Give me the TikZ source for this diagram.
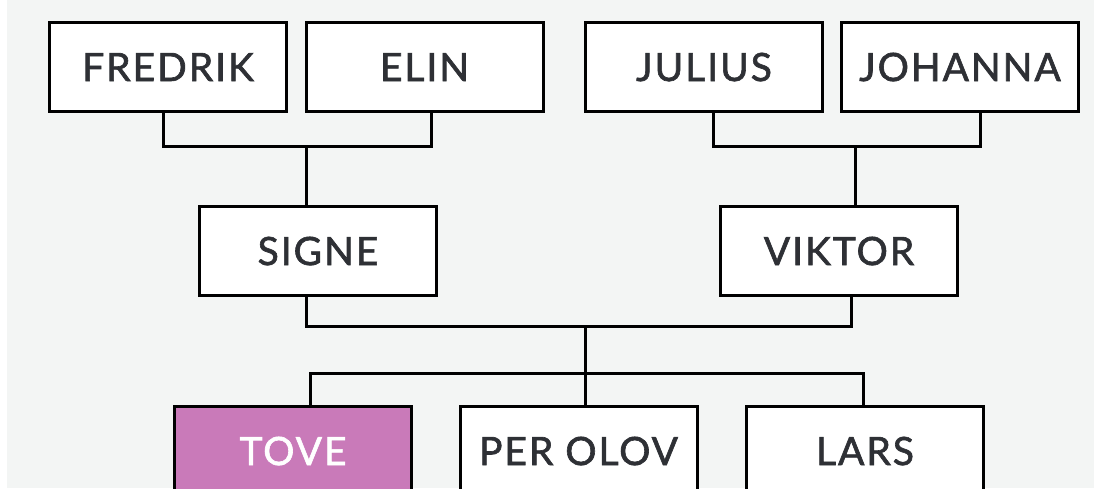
\documentclass[tikz,border=0pt]{standalone}
\usepackage{fontspec}
\newfontfamily\labfont[LetterSpace=5,FakeBold=1.6]{Lato}
\usetikzlibrary{calc}
\definecolor{bggray}{HTML}{F3F5F4}
\definecolor{txtgray}{HTML}{2E3035}
\definecolor{tovefill}{HTML}{C97AB9}
\tikzset{
  person/.style={draw=black, line width=3pt, fill=white, minimum width=237pt, minimum height=89pt,
    inner sep=0pt, text height=28pt, text depth=0pt, font=\labfont\fontsize{39}{39}\selectfont, text=txtgray},
  hilite/.style={person, fill=tovefill, text=white},
  link/.style={line width=3pt, draw=black, line cap=rect}
}
\begin{document}
\begin{tikzpicture}[x=1pt,y=-1pt]
\useasboundingbox (0,0) rectangle (1094,488);
\clip (0,0) rectangle (1094,488);
\fill[white] (0,0) rectangle (1094,488);
\fill[bggray] (7,0) rectangle (1094,488);
% nodes
\node[person] (fredrik) at (168,67) {FREDRIK};
\node[person] (elin) at (424.5,67) {ELIN};
\node[person] (julius) at (704,67) {JULIUS};
\node[person] (johanna) at (960,67) {JOHANNA};
\node[person] (signe) at (318,251) {SIGNE};
\node[person] (viktor) at (839,251) {VIKTOR};
\node[hilite] (tove) at (293,451) {TOVE};
\node[person] (perolov) at (578.5,451) {PER OLOV};
\node[person] (lars) at (865,451) {LARS};
% junction coordinates
\coordinate (j1) at (306,146);
\coordinate (j2) at (855,146);
\coordinate (j3) at (585,326);
\coordinate (j4) at (585,373);
% connectors
\draw[link] ([xshift=-5pt]fredrik.south) |- (j1) -| ([xshift=6.5pt]elin.south);
\draw[link] (j1) -- (signe.north -| j1);
\draw[link] ([xshift=9pt]julius.south) |- (j2) -| ([xshift=20pt]johanna.south);
\draw[link] (j2) -- (viktor.north -| j2);
\draw[link] (signe.south -| j1) |- (j3) -| ([xshift=12pt]viktor.south);
\draw[link] (j3) -- (perolov.north -| j3);
\draw[link] ([xshift=17pt]tove.north) |- (j4) -| ([xshift=-2pt]lars.north);
\end{tikzpicture}
\end{document}
